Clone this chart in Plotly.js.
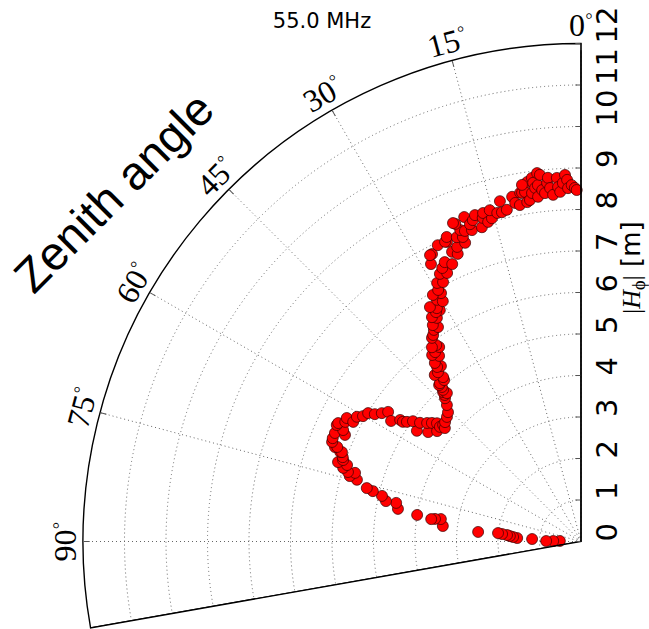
<!DOCTYPE html>
<html>
<head>
<meta charset="utf-8">
<script src="https://cdn.plot.ly/plotly-3.0.1.min.js"></script>
<style>
  html, body { margin: 0; padding: 0; background: #fff; }
  #chart { width: 649px; height: 629px; }
</style>
</head>
<body>
<div id="chart"></div>
<script>
// Zenith angle (deg) and |H_phi| (m) of the antenna response at 55 MHz
const zenithDeg = [
  88.6, 89.0, 89.2, 87.1, 86.9, 86.2, 85.6, 85.0, 84.6, 84.2, 84.7,
  83.6, 80.9, 81.2, 81.5, 80.8, 79.9, 78.2, 78.3, 77.1, 76.4, 76.0, 74.6, 74.2, 73.1, 73.4,
  72.8, 71.9, 71.9, 71.1, 70.5, 69.6, 69.5, 69.0, 68.8, 68.2,
  67.4, 66.2, 65.7, 64.9, 64.5, 64.0, 63.1, 62.2, 62.3, 60.9, 60.1, 58.9, 58.3, 57.2, 56.1,
  57.6, 56.1, 56.1, 55.5, 56.0, 54.4, 54.4, 53.6, 52.4, 51.5, 52.5, 50.6, 50.9, 49.8, 50.2,
  48.7, 47.1, 45.8, 44.5, 43.5, 42.9, 42.7, 42.1, 42.3, 42.0, 42.2, 41.7, 40.3, 40.0, 41.3,
  40.2, 38.6, 39.5, 39.3, 37.4, 38.6, 37.6, 36.1, 36.4, 37.5, 36.2, 35.6, 34.8, 33.7, 34.4,
  32.8, 33.6, 31.4, 32.3, 31.7, 32.8, 30.8, 29.9, 29.4, 31.0, 29.6, 29.1, 28.0, 27.8, 26.5,
  26.9, 26.0, 24.9, 28.4, 27.4, 27.8, 24.0, 23.2, 22.8, 21.2, 24.1, 25.8, 24.4, 23.8, 22.2,
  21.2, 21.2, 21.6, 21.9, 20.5, 19.8, 19.3, 19.3, 18.6, 18.0, 17.5, 16.9, 16.6, 16.2, 15.4,
  15.4, 14.3, 13.5, 13.4, 12.6, 11.3, 11.0, 10.3, 9.9, 9.6, 9.1, 9.0, 8.5, 8.0, 8.5,
  9.4, 7.7, 7.6, 7.4, 7.1, 6.9, 6.8, 6.4, 6.3, 5.9, 5.4, 5.2, 5.0, 4.6, 3.8,
  3.7, 3.4, 2.9, 2.5, 2.2, 2.1, 1.5, 1.0, 0.7
];
const hPhi = [
  0.51, 0.67, 0.84, 1.18, 1.54, 1.64, 1.72, 1.79, 1.91, 2.01, 2.49,
  3.35, 3.42, 3.56, 3.65, 4.00, 4.48, 4.55, 4.80, 4.92, 5.16, 5.32, 5.60, 5.79, 5.69, 5.86,
  6.00, 5.93, 6.16, 6.06, 6.09, 6.19, 6.15, 6.35, 6.30, 6.46,
  6.48, 6.48, 6.24, 6.33, 6.52, 6.51, 6.37, 6.38, 6.20, 6.18, 6.06, 5.99, 5.84, 5.71, 5.60,
  5.42, 5.25, 5.17, 5.09, 4.77, 4.98, 4.53, 4.82, 4.68, 4.59, 4.37, 4.49, 4.38, 4.35, 4.27,
  4.36, 4.41, 4.47, 4.61, 4.76, 4.82, 4.90, 4.82, 4.94, 5.01, 5.09, 5.11, 5.10, 5.17, 5.34,
  5.34, 5.41, 5.45, 5.56, 5.63, 5.75, 5.76, 5.80, 5.88, 5.90, 6.08, 6.12, 6.21, 6.21, 6.32,
  6.41, 6.49, 6.53, 6.54, 6.61, 6.72, 6.78, 6.68, 6.87, 6.93, 6.97, 7.13, 7.08, 7.29, 7.23,
  7.39, 7.49, 7.37, 7.60, 7.80, 7.80, 7.64, 7.54, 7.70, 7.72, 7.91, 7.93, 7.93, 8.02, 7.92,
  7.87, 8.05, 8.23, 8.27, 7.99, 8.31, 7.95, 8.10, 8.17, 8.27, 7.94, 8.15, 8.26, 8.02, 8.08,
  8.28, 8.17, 8.16, 8.43, 8.19, 8.47, 8.31, 8.24, 8.53, 8.52, 8.53, 8.28, 8.32, 8.48, 8.76,
  8.71, 8.84, 8.72, 8.59, 8.37, 8.65, 8.94, 8.89, 8.52, 8.44, 8.68, 8.80, 8.55, 8.38, 8.78,
  8.56, 8.44, 8.65, 8.84, 8.72, 8.52, 8.59, 8.52, 8.47
];

const angleTicks = [0, 15, 30, 45, 60, 75, 90];
const radialTicks = [0, 1, 2, 3, 4, 5, 6, 7, 8, 9, 10, 11, 12];
const rMax = 12;
const zenithMax = 100;

// figure geometry: polar origin and outer radius in pixels
const W = 649, H = 629;
const cx = 581, cy = 541.5, R = 498;
const rad = d => d * Math.PI / 180;

// sector in screen angles (0 = right, counterclockwise); zenith 0 points up
const sector = [90, 90 + zenithMax];
const below = R * Math.sin(rad(zenithMax - 90));
const domX = [(cx - R) / W, cx / W];
const domY = [1 - (cy + below) / H, 1 - (cy - R) / H];

const gridDash = '1px,3px';
const serif = 'Liberation Serif, DejaVu Serif, serif';

// angular tick labels, set along the rim and turned tangent to it
const labelRadius = R + 21;
const angleLabels = angleTicks.map(t => ({
  text: t + '<sup>◦</sup>',
  x: (cx - labelRadius * Math.sin(rad(t))) / W,
  y: 1 - (cy - labelRadius * Math.cos(rad(t))) / H,
  xref: 'paper', yref: 'paper',
  xanchor: 'center', yanchor: 'middle',
  textangle: -t,
  showarrow: false,
  font: { family: serif, size: 32, color: '#000' }
}));

const traces = [
  {
    type: 'scatterpolar',
    mode: 'markers',
    theta: zenithDeg,
    r: hPhi,
    marker: { size: 11, color: '#ff0000', line: { color: '#330000', width: 0.7 } },
    hoverinfo: 'skip',
    showlegend: false
  },
  {
    // lower edge of the sector
    type: 'scatterpolar',
    mode: 'lines',
    theta: [zenithMax, zenithMax],
    r: [0, rMax],
    line: { color: '#000', width: 1.4 },
    hoverinfo: 'skip',
    showlegend: false
  }
];

const layout = {
  width: W, height: H,
  margin: { l: 0, r: 0, t: 0, b: 0, pad: 0 },
  paper_bgcolor: '#fff',
  showlegend: false,
  title: {
    text: '55.0 MHz',
    x: 322 / W, y: 1 - 21 / H,
    xanchor: 'center', yanchor: 'middle',
    font: { family: 'DejaVu Sans', size: 21, color: '#000' }
  },
  polar: {
    domain: { x: domX, y: domY },
    sector: sector,
    bgcolor: '#fff',
    angularaxis: {
      direction: 'counterclockwise',
      rotation: 90,
      thetaunit: 'degrees',
      tickmode: 'array',
      tickvals: angleTicks,
      showticklabels: false,
      ticks: 'inside',
      ticklen: 6,
      tickcolor: '#555',
      showline: true,
      linecolor: '#000',
      linewidth: 1.4,
      showgrid: true,
      gridcolor: '#666',
      gridwidth: 1,
      griddash: gridDash
    },
    radialaxis: {
      range: [0, rMax],
      angle: 90,
      side: 'clockwise',
      tickmode: 'array',
      tickvals: radialTicks,
      ticktext: radialTicks.map(String),
      // labels run along the vertical axis, read bottom to top
      tickangle: 0.01,
      ticks: 'inside',
      ticklen: 5,
      tickcolor: '#555',
      showline: true,
      linecolor: '#000',
      linewidth: 1.4,
      showgrid: true,
      gridcolor: '#666',
      gridwidth: 1,
      griddash: gridDash,
      tickfont: { family: 'DejaVu Sans', size: 29, color: '#000' }
    }
  },
  annotations: angleLabels.concat([
    {
      text: '<span style="font-family:Liberation Serif">|<i>H</i><sub>ϕ</sub>|</span> [m]',
      x: 632 / W, y: 1 - 268 / H,
      xref: 'paper', yref: 'paper',
      xanchor: 'center', yanchor: 'middle',
      textangle: -90,
      showarrow: false,
      font: { family: 'DejaVu Sans', size: 26, color: '#000' }
    },
    {
      text: 'Zenith angle',
      x: 113 / W, y: 1 - 192 / H,
      xref: 'paper', yref: 'paper',
      xanchor: 'center', yanchor: 'middle',
      textangle: -45,
      showarrow: false,
      font: { family: 'Liberation Sans', size: 47, color: '#000' }
    }
  ])
};

Plotly.newPlot('chart', traces, layout, { displayModeBar: false, staticPlot: true });
</script>
</body>
</html>
